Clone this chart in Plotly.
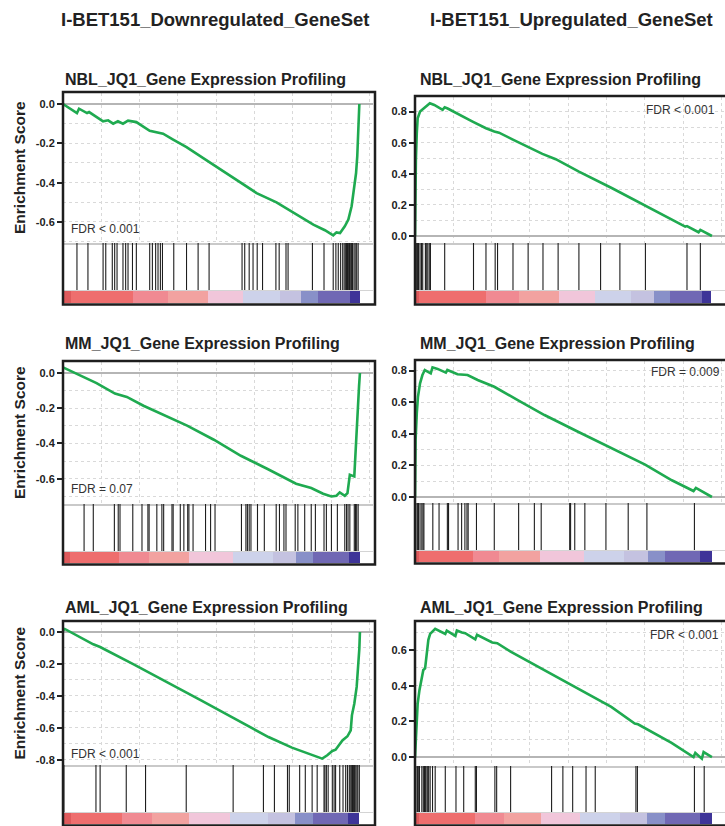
import plotly.graph_objects as go

W, H = 725, 826

# ------------------------------------------------------------------ data
col_titles = ["I-BET151_Downregulated_GeneSet", "I-BET151_Upregulated_GeneSet"]
panel_titles = [
    "NBL_JQ1_Gene Expression Profiling", "NBL_JQ1_Gene Expression Profiling",
    "MM_JQ1_Gene Expression Profiling", "MM_JQ1_Gene Expression Profiling",
    "AML_JQ1_Gene Expression Profiling", "AML_JQ1_Gene Expression Profiling",
]
fdr_labels = ["FDR < 0.001", "FDR < 0.001", "FDR = 0.07", "FDR = 0.009",
              "FDR < 0.001", "FDR < 0.001"]
y_axis_title = "Enrichment Score"

# running enrichment score; x = position in ranked gene list (% of list)
nbl_down_x = [0, 4.7, 5.4, 8.1, 8.8, 13.5, 15.2, 16.9, 18.5, 20.2, 21.9, 24.7, 29.2, 33.7,
              37.1, 41.6, 48.9, 57.3, 65.2, 71.9, 77.5, 84.3, 88.2, 91.0, 92.1, 93.3,
              94.9, 96.1, 97.2, 98.0, 98.7, 99.1, 99.4, 99.8]
nbl_down_es = [0, -0.046, -0.024, -0.046, -0.041, -0.088, -0.083, -0.1, -0.088, -0.1,
               -0.085, -0.092, -0.136, -0.151, -0.181, -0.219, -0.292, -0.376, -0.453,
               -0.5, -0.551, -0.614, -0.642, -0.668, -0.653, -0.656, -0.622, -0.588,
               -0.52, -0.436, -0.351, -0.266, -0.131, 0.0]

nbl_up_x = [0, 0.1, 0.3, 0.6, 0.9, 1.7, 2.6, 3.7, 5.0, 6.5, 9.3, 10.0, 11.0, 19.4, 23.9,
            26.7, 28.3, 32.8, 38.4, 42.9, 47.4, 55.2, 66.4, 77.6, 85.4, 91.0, 91.6, 95.5,
            96.1, 100]
nbl_up_es = [0, 0.275, 0.489, 0.661, 0.757, 0.800, 0.815, 0.833, 0.854, 0.843, 0.811,
             0.828, 0.820, 0.736, 0.693, 0.672, 0.665, 0.622, 0.571, 0.528, 0.494, 0.414,
             0.307, 0.195, 0.116, 0.060, 0.064, 0.024, 0.039, 0.0]

mm_down_x = [0, 6.8, 8.1, 11.3, 17.5, 21.5, 27.1, 35.0, 36.7, 41.8, 50.8, 59.9, 68.9,
             74.6, 78.5, 83.6, 87.6, 90.4, 92.1, 93.2, 94.9, 95.8, 96.6, 98.1, 98.9,
             99.2, 99.7, 100]
mm_down_es = [0.032, -0.023, -0.03, -0.057, -0.117, -0.136, -0.186, -0.246, -0.258,
              -0.299, -0.379, -0.470, -0.545, -0.597, -0.629, -0.653, -0.686, -0.701,
              -0.697, -0.678, -0.697, -0.682, -0.578, -0.587, -0.303, -0.189, -0.076, 0.0]

mm_up_x = [0, 0.2, 0.6, 1.0, 1.7, 2.5, 3.3, 5.3, 5.9, 7.6, 10.4, 10.9, 14.3, 17.7, 21.1,
           26.7, 34.6, 43.6, 54.9, 66.2, 71.8, 77.5, 86.5, 93.8, 94.6, 100]
mm_up_es = [0, 0.36, 0.529, 0.635, 0.720, 0.772, 0.804, 0.783, 0.821, 0.811, 0.787,
            0.804, 0.777, 0.772, 0.741, 0.698, 0.614, 0.519, 0.413, 0.307, 0.258, 0.205,
            0.106, 0.038, 0.057, 0.0]

aml_down_x = [0, 0.6, 10.2, 12.5, 23.8, 35.1, 46.5, 57.8, 69.2, 77.1, 82.8, 87.3, 89.0,
              90.7, 91.8, 93.0, 94.1, 95.8, 96.9, 97.3, 98.1, 98.9, 99.5, 99.8, 100]
aml_down_es = [0.010, 0.019, -0.077, -0.094, -0.203, -0.313, -0.428, -0.543, -0.658,
               -0.724, -0.762, -0.793, -0.772, -0.745, -0.737, -0.710, -0.679, -0.653,
               -0.616, -0.522, -0.449, -0.344, -0.219, -0.104, 0.0]

aml_up_x = [0, 0.3, 0.6, 0.9, 1.5, 2.3, 2.8, 3.4, 4.0, 4.5, 5.1, 6.0, 6.8, 10.2, 10.7,
            13.6, 14.1, 15.8, 16.9, 20.3, 20.9, 26.0, 27.7, 32.2, 43.5, 54.8, 66.1, 74.0,
            75.1, 86.4, 93.8, 94.4, 96.6, 97.2, 100]
aml_up_es = [0, 0.131, 0.225, 0.300, 0.375, 0.441, 0.488, 0.497, 0.600, 0.657, 0.690,
             0.704, 0.719, 0.690, 0.709, 0.679, 0.709, 0.698, 0.694, 0.660, 0.685, 0.642,
             0.638, 0.591, 0.488, 0.385, 0.281, 0.188, 0.184, 0.079, 0.0, 0.023, -0.009,
             0.028, 0.0]

# gene-set hit positions (% of ranked list)
nbl_down_hits = [4.7, 8.4, 13.5, 14.4, 16.6, 17.4, 18.2, 20.2, 21.1, 21.9, 23.4, 24.7,
                 29.2, 30.1, 31.2, 32.0, 32.8, 33.5, 37.3, 41.6, 45.5, 49.2, 60.3, 61.2,
                 62.7, 64.0, 65.4, 67.2, 71.7, 72.8, 75.1, 75.8, 84.0, 87.9, 91.0, 91.9,
                 92.7, 93.5, 94.2, 94.7, 95.2, 95.5, 95.8, 96.2, 96.5, 96.9, 97.2, 97.5,
                 98.0, 98.4, 98.9, 99.4]
nbl_up_hits = [0.0, 0.2, 0.4, 0.7, 0.9, 1.2, 1.7, 2.2, 2.6, 3.5, 3.8, 4.3, 4.8, 5.2, 10.0,
               19.7, 23.9, 27.0, 27.8, 33.0, 38.1, 43.1, 48.2, 55.2, 62.5, 69.0, 77.6,
               91.6, 96.1]
mm_down_hits = [7.1, 10.2, 17.3, 18.6, 19.2, 23.5, 26.6, 28.6, 29.0, 31.6, 33.3, 33.9,
                36.7, 37.1, 39.5, 40.7, 42.0, 42.4, 43.8, 48.0, 49.7, 51.2, 60.1, 61.6,
                62.1, 62.7, 63.3, 65.5, 67.8, 71.8, 72.9, 74.4, 75.1, 78.2, 79.1, 81.4,
                83.6, 85.0, 87.9, 88.7, 90.4, 92.4, 94.9, 95.5, 96.0, 96.6, 98.1, 98.5,
                98.9, 99.4]
mm_up_hits = [0.0, 0.3, 0.8, 1.2, 1.7, 2.3, 2.7, 3.0, 6.0, 8.1, 10.9, 11.3, 14.5, 15.7,
              16.8, 17.5, 17.9, 20.7, 26.7, 34.9, 40.2, 42.5, 52.1, 52.4, 53.8, 57.2,
              64.3, 71.8, 78.1, 94.1]
aml_down_hits = [0.3, 11.1, 12.5, 21.3, 27.8, 41.5, 57.3, 67.5, 71.2, 75.6, 76.2, 79.7,
                 81.6, 83.9, 85.6, 87.9, 88.2, 88.7, 89.3, 90.7, 91.3, 91.8, 93.2, 94.3,
                 95.2, 95.8, 96.4, 96.7, 97.1, 97.5, 97.8, 98.2, 98.6, 99.0, 99.3, 99.8]
aml_up_hits = [0.0, 0.3, 0.8, 1.1, 1.5, 2.3, 2.8, 3.2, 3.5, 4.0, 4.3, 4.6, 5.1, 5.9, 6.8,
               10.2, 13.8, 16.4, 20.3, 20.7, 26.9, 27.5, 32.2, 46.0, 49.8, 53.1, 57.6,
               60.7, 74.4, 74.9, 94.1, 97.4]

# ranked-list colour bar: block edges (% of list) and block colours
bar_colors = ["#de5a5c", "#ee6e6e", "#f08a92", "#f2a2a0", "#f1c6da", "#cdd2ea",
              "#c4c2e0", "#8890c8", "#7068b4", "#3e3498"]
nbl_down_bar = [0, 2.6, 23.6, 35.4, 48.9, 60.7, 73.0, 80.3, 86.0, 96.6, 100]
nbl_up_bar = [0, 1.5, 23.9, 35.1, 48.5, 60.6, 72.6, 80.4, 85.8, 96.6, 99.8]
mm_down_bar = [0, 2.5, 19.0, 28.8, 42.4, 57.1, 70.6, 78.5, 84.2, 96.3, 100]
mm_up_bar = [0, 1.5, 19.4, 28.4, 42.2, 56.9, 70.5, 78.4, 84.2, 96.1, 100]
aml_down_bar = [0, 2.6, 19.8, 30.0, 42.5, 56.1, 68.9, 78.0, 84.1, 96.0, 99.6]
aml_up_bar = [0, 1.5, 20.3, 29.9, 42.4, 55.7, 69.2, 78.0, 84.2, 96.0, 100]

tick_sets = [
    [0.0, -0.2, -0.4, -0.6], [0.0, 0.2, 0.4, 0.6, 0.8],
    [0.0, -0.2, -0.4, -0.6], [0.0, 0.2, 0.4, 0.6, 0.8],
    [0.0, -0.2, -0.4, -0.6, -0.8], [0.0, 0.2, 0.4, 0.6],
]

curves = [(nbl_down_x, nbl_down_es), (nbl_up_x, nbl_up_es), (mm_down_x, mm_down_es),
          (mm_up_x, mm_up_es), (aml_down_x, aml_down_es), (aml_up_x, aml_up_es)]
hits = [nbl_down_hits, nbl_up_hits, mm_down_hits, mm_up_hits, aml_down_hits, aml_up_hits]
bars = [nbl_down_bar, nbl_up_bar, mm_down_bar, mm_up_bar, aml_down_bar, aml_up_bar]

# ------------------------------------------------------------------ geometry (pixels)
# x0, x1, es_top, es_bottom(=hits top), hits_bottom(=bar top), bar_bottom, frame_top, frame_bottom
geom = [
    (63, 373, 93, 243, 291, 303, 92, 304.5),
    (415, 725, 97, 243, 291, 303, 96, 304.5),
    (63, 373, 362, 504, 552, 563, 361, 564.5),
    (415, 725, 361, 503, 551, 562, 360, 563.5),
    (63, 373, 622, 765, 813, 824, 621, 825.5),
    (415, 725, 622, 766, 813, 824, 621, 825.5),
]
y_ranges = [(-0.707, 0.056), (-0.045, 0.894), (-0.744, 0.0625), (-0.038, 0.861),
            (-0.833, 0.0626), (-0.050, 0.757)]
XMAX = 104.4
fdr_pos = [(0.02, 0.093, "left"), (0.974, 0.911, "right"), (0.02, 0.106, "left"),
           (0.99, 0.923, "right"), (0.02, 0.077, "left"), (0.987, 0.91, "right")]
title_y = [79, 79, 343, 343, 607, 607]

FONT = "Liberation Sans, Arial, Helvetica, sans-serif"
GREEN = "#1faa50"
GRID = "#d9d9d9"


def px(x):
    return x / W


def py(y):
    return 1 - y / H


def ax(n):
    s = "" if n == 1 else str(n)
    return "x" + s, "y" + s


colorscale = [[i / (len(bar_colors) - 1), c] for i, c in enumerate(bar_colors)]

fig = go.Figure()
layout = dict(
    width=W, height=H, margin=dict(l=0, r=0, t=0, b=0),
    paper_bgcolor="white", plot_bgcolor="white", showlegend=False,
    font=dict(family=FONT, color="#222"),
)
shapes = []
annotations = []

for p in range(6):
    x0, x1, es_t, es_b, hit_b, bar_b, fr_t, fr_b = geom[p]
    xe, ye = ax(3 * p + 1)
    xh, yh = ax(3 * p + 2)
    xb, yb = ax(3 * p + 3)
    xd = [px(x0), min(px(x1), 1.0)]

    cx, cy = curves[p]
    fig.add_trace(go.Scatter(x=cx, y=cy, mode="lines",
                             line=dict(color=GREEN, width=2.6),
                             xaxis=xe, yaxis=ye, hoverinfo="skip"))
    hx, hy = [], []
    for h in hits[p]:
        hx += [h, h, None]
        hy += [0, 1, None]
    fig.add_trace(go.Scatter(x=hx, y=hy, mode="lines",
                             line=dict(color="#1e1e1e", width=1.1),
                             xaxis=xh, yaxis=yh, hoverinfo="skip"))
    fig.add_trace(go.Heatmap(x=bars[p], y=[0, 1], z=[list(range(len(bar_colors)))],
                             colorscale=colorscale, zmin=0, zmax=len(bar_colors) - 1,
                             showscale=False, hoverinfo="skip",
                             xaxis=xb, yaxis=yb))

    # ES axes
    layout[xe.replace("x", "xaxis")] = dict(
        domain=xd, anchor=ye, range=[0, XMAX], showticklabels=False, ticks="",
        showgrid=True, gridcolor=GRID, griddash="dot", gridwidth=1,
        tickmode="linear", tick0=0, dtick=12.9, zeroline=False,
        showline=True, linecolor="#c9c9c9", linewidth=2, fixedrange=True)
    tv = tick_sets[p]
    layout[ye.replace("y", "yaxis")] = dict(
        domain=[py(es_b), py(es_t)], anchor=xe, range=list(y_ranges[p]),
        tickmode="array", tickvals=tv, ticktext=[f"{v:.1f}" for v in tv],
        ticks="outside", ticklen=5, tickwidth=1.5, tickcolor="#222",
        tickfont=dict(size=11, family=FONT, color="#222", weight="bold"),
        showgrid=True, gridcolor=GRID, griddash="dot", gridwidth=1,
        minor=dict(tickmode="linear", tick0=0, dtick=0.1, showgrid=True,
                   gridcolor=GRID, griddash="dot", gridwidth=1, ticks=""),
        zeroline=True, zerolinecolor="#b5b5b5", zerolinewidth=1.5,
        showline=False, fixedrange=True)
    # hits axes
    layout[xh.replace("x", "xaxis")] = dict(domain=xd, anchor=yh, range=[0, XMAX],
                                            visible=False, fixedrange=True)
    layout[yh.replace("y", "yaxis")] = dict(domain=[py(hit_b), py(es_b)], anchor=xh,
                                            range=[0, 1], visible=False, fixedrange=True)
    # colour bar axes
    layout[xb.replace("x", "xaxis")] = dict(domain=xd, anchor=yb, range=[0, XMAX],
                                            showticklabels=False, ticks="", showgrid=False,
                                            zeroline=False, side="top", showline=True,
                                            linecolor="#d4d4d4", linewidth=1,
                                            fixedrange=True)
    layout[yb.replace("y", "yaxis")] = dict(domain=[py(bar_b), py(hit_b)], anchor=xb,
                                            range=[0, 1], visible=False, fixedrange=True)

    # frame
    shapes.append(dict(type="rect", xref="paper", yref="paper",
                       x0=px(x0), x1=px(x1 + 2), y0=py(fr_b), y1=py(fr_t),
                       line=dict(color="#1e1e1e", width=2.5),
                       fillcolor="rgba(0,0,0,0)", layer="above"))

    # panel title
    annotations.append(dict(text=f"<b>{panel_titles[p]}</b>", xref="paper", yref="paper",
                            x=px(x0 + (0 if p % 2 == 0 else 3)), y=py(title_y[p]),
                            xanchor="left", yanchor="middle", showarrow=False,
                            font=dict(size=16, family=FONT, color="#222")))
    # FDR label
    fx, fy, fa = fdr_pos[p]
    annotations.append(dict(text=fdr_labels[p], xref=f"{xe} domain",
                            yref=f"{ye} domain", x=fx, y=fy, xanchor=fa,
                            yanchor="middle", showarrow=False,
                            font=dict(size=12, family=FONT, color="#333")))
    # y-axis title (left column only)
    if p % 2 == 0:
        annotations.append(dict(text=f"<b>{y_axis_title}</b>", xref="paper", yref="paper",
                                x=px(19), y=py((es_t + es_b) / 2), textangle=-90,
                                xanchor="center", yanchor="middle", showarrow=False,
                                font=dict(size=15.5, family=FONT, color="#222")))

# column headers
for i, t in enumerate(col_titles):
    annotations.append(dict(text=f"<b>{t}</b>", xref="paper", yref="paper",
                            x=px([215, 571][i]), y=py(19), xanchor="center",
                            yanchor="middle", showarrow=False,
                            font=dict(size=18.5, family=FONT, color="#222")))

layout["shapes"] = shapes
layout["annotations"] = annotations
fig.update_layout(**layout)
fig.write_html("out.html", config={"displayModeBar": False},
               post_script="document.body.style.margin='0';"
                           "document.body.style.overflow='hidden';")
